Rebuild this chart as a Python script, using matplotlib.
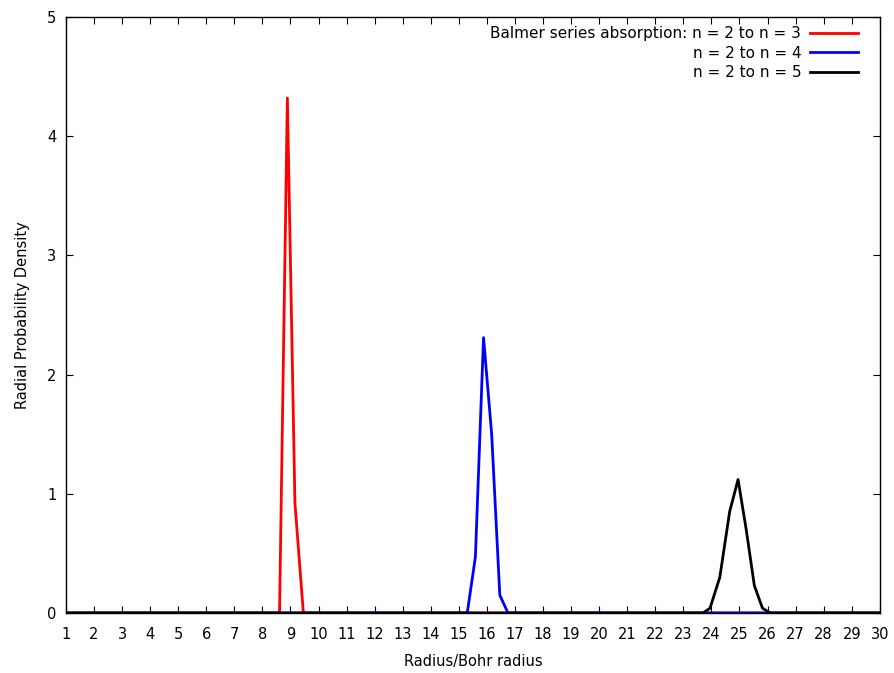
import matplotlib
matplotlib.use('Agg')
import matplotlib.pyplot as plt

# data (radius in Bohr radii, density)
r_n3 = [1.0, 8.61, 8.89, 9.16, 9.46, 30.0]
p_n3 = [0.0, 0.0, 4.32, 0.92, 0.0, 0.0]

r_n4 = [1.0, 15.30, 15.59, 15.88, 16.17, 16.46, 16.75, 30.0]
p_n4 = [0.0, 0.0, 0.47, 2.31, 1.50, 0.15, 0.0, 0.0]

r_n5 = [1.0, 23.70, 23.95, 24.30, 24.65, 24.95, 25.24, 25.53, 25.82, 26.10, 30.0]
p_n5 = [0.0, 0.0, 0.04, 0.30, 0.85, 1.12, 0.70, 0.23, 0.04, 0.0, 0.0]

labels = ['Balmer series absorption: n = 2 to n = 3',
          'n = 2 to n = 4',
          'n = 2 to n = 5']
xticks = list(range(1, 31))
yticks = [0, 1, 2, 3, 4, 5]

plt.rcParams['font.family'] = 'DejaVu Sans'
plt.rcParams['font.size'] = 10.5

fig = plt.figure(figsize=(8.95, 6.73), dpi=100)
ax = fig.add_axes([0.0737, 0.0892, 0.9093, 0.8855])

ax.plot(r_n3, p_n3, color='#ff0000', lw=2.0, label=labels[0])
ax.plot(r_n4, p_n4, color='#0000ff', lw=2.0, label=labels[1])
ax.plot(r_n5, p_n5, color='black', lw=2.0, label=labels[2])

ax.set_xlim(1, 30)
ax.set_ylim(0, 5)
ax.set_xticks(xticks)
ax.set_yticks(yticks)
ax.tick_params(axis='x', direction='in', top=True, length=5, width=0.8, pad=10)
ax.tick_params(axis='y', direction='in', right=True, length=5, width=0.8, pad=7)
for s in ax.spines.values():
    s.set_linewidth(1.0)

ax.set_xlabel('Radius/Bohr radius', labelpad=9)
ax.set_ylabel('Radial Probability Density', labelpad=12)

ax.legend(loc='upper right', bbox_to_anchor=(0.973, 0.985), frameon=False,
          markerfirst=False, fontsize=11, handlelength=3.1, handletextpad=0.6,
          labelspacing=0.3, borderaxespad=0, borderpad=0)

fig.savefig('out.png', dpi=100)
